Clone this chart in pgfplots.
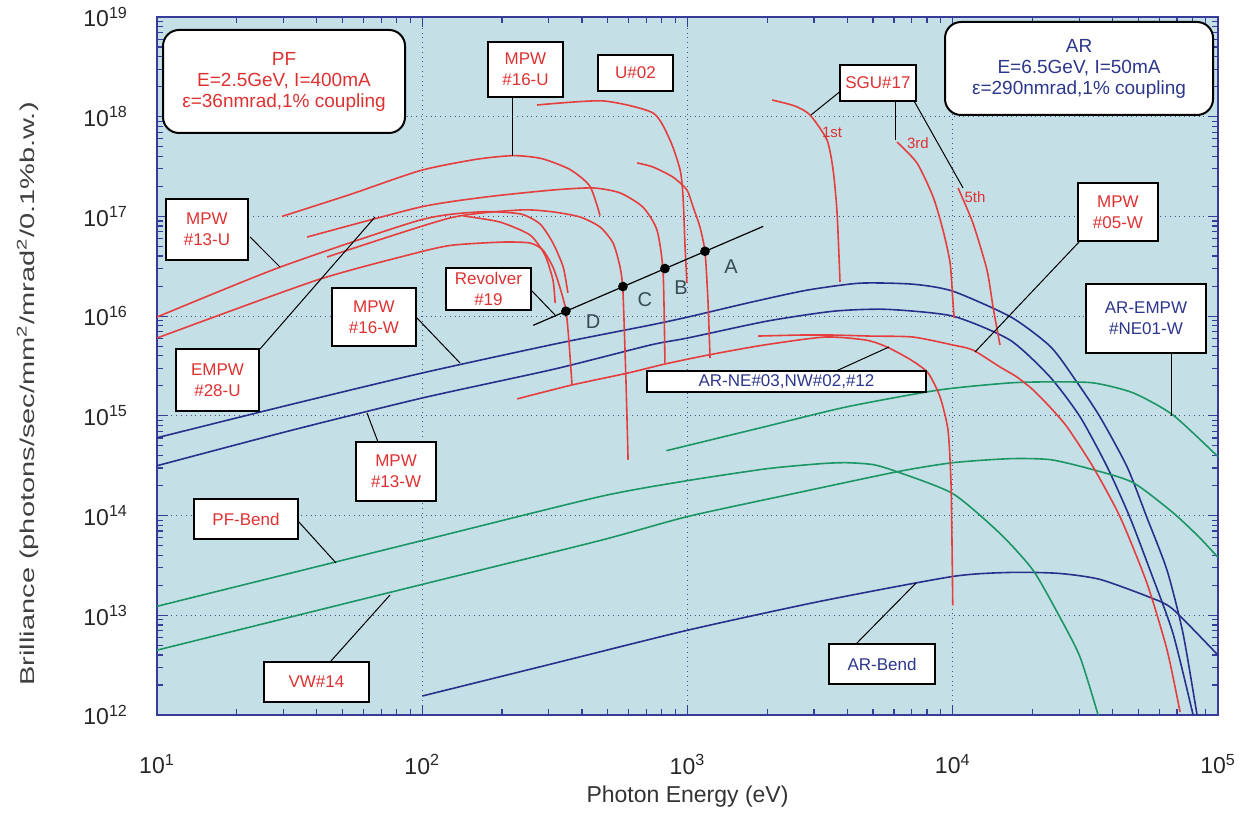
\documentclass[border=0pt]{standalone}
\usepackage{pgfplots}
\pgfplotsset{compat=1.18}
\usepackage{fontspec}
\setmainfont{Liberation Sans}
\usetikzlibrary{calc}
\definecolor{bgc}{RGB}{197,223,230}
\definecolor{redc}{RGB}{228,62,62}
\definecolor{redt}{RGB}{222,50,50}
\definecolor{bluec}{RGB}{40,48,140}
\definecolor{bluet}{RGB}{45,55,140}
\definecolor{greenc}{RGB}{28,150,100}
\definecolor{framec}{RGB}{55,60,155}
\definecolor{gridc}{RGB}{70,80,130}
\definecolor{letc}{RGB}{55,75,85}
\pgfplotsset{
  rc/.style={redc, line width=0.8pt, smooth, tension=0.4},
  bc/.style={bluec, line width=0.8pt, smooth, tension=0.4},
  gc/.style={greenc, line width=0.8pt, smooth, tension=0.4},
}
\tikzset{
  box/.style={draw=black, fill=white, line width=0.8pt, inner sep=1pt, align=center, font=\fontsize{8.5}{10.5}\selectfont},
  lead/.style={black, line width=0.5pt},
}
\begin{document}
\begin{tikzpicture}
\begin{axis}[name=ax, scale only axis, width=530.5pt, height=349pt,
  xmode=log, ymode=log, xmin=10, xmax=1e5, ymin=1e12, ymax=1e19,
  axis background/.style={fill=bgc},
  axis line style={framec, line width=0.8pt},
  tick style={framec, line width=0.6pt},
  major tick length=5pt, minor tick length=3pt,
  xtick={10,100,1000,10000,100000},
  xticklabels={10\textsuperscript{1},10\textsuperscript{2},10\textsuperscript{3},10\textsuperscript{4},10\textsuperscript{5}},
  ytick={1e12,1e13,1e14,1e15,1e16,1e17,1e18,1e19},
  yticklabels={10\textsuperscript{12},10\textsuperscript{13},10\textsuperscript{14},10\textsuperscript{15},10\textsuperscript{16},10\textsuperscript{17},10\textsuperscript{18},10\textsuperscript{19}},
  minor xtick={20,30,40,50,60,70,80,90,200,300,400,500,600,700,800,900,2000,3000,4000,5000,6000,7000,8000,9000,20000,30000,40000,50000,60000,70000,80000,90000},
  minor ytick={2e12,3e12,4e12,5e12,6e12,7e12,8e12,9e12,2e13,3e13,4e13,5e13,6e13,7e13,8e13,9e13,2e14,3e14,4e14,5e14,6e14,7e14,8e14,9e14,2e15,3e15,4e15,5e15,6e15,7e15,8e15,9e15,2e16,3e16,4e16,5e16,6e16,7e16,8e16,9e16,2e17,3e17,4e17,5e17,6e17,7e17,8e17,9e17,2e18,3e18,4e18,5e18,6e18,7e18,8e18,9e18},
  grid=major, major grid style={dotted, gridc, line width=0.6pt},
  tick label style={font=\fontsize{11.5}{13}\selectfont, black!85},
  xticklabel style={yshift=-16pt},
  yticklabel style={xshift=-11pt},
  xlabel={Photon Energy (eV)},
  xlabel style={at={(axis description cs:0.5,-0.1175)}, anchor=center, font=\fontsize{11.5}{13}\selectfont, black!80},
  ylabel={\scalebox{1.45}[1]{Brilliance (photons/sec/mm\textsuperscript{2}/mrad\textsuperscript{2}/0.1\%b.w.)}},
  ylabel style={at={(axis description cs:-0.122,0.46)}, anchor=center, font=\fontsize{10}{12}\selectfont, black!75},
]
% ---- blue: PF MPW#16-W, MPW#13-W, AR-Bend
\addplot[bc] coordinates {(10,6.03e14)(31.6,1.29e15)(100,2.69e15)(316,5.25e15)(724,8.13e15)(1000,9.77e15)(1738,1.38e16)(2818,1.82e16)(4467,2.14e16)(7079,2.09e16)(10000,1.78e16)(16600,9.77e15)(23440,4.90e15)(29510,2.14e15)(35890,9.77e14)(45390,3.09e14)(53950,9.55e13)(64270,2.82e13)(73790,6.61e12)(83370,1.0e12)};
\addplot[bc] coordinates {(10,3.16e14)(31.6,7.08e14)(100,1.51e15)(316,2.95e15)(724,5.13e15)(1000,6.03e15)(1995,8.91e15)(3548,1.12e16)(5623,1.17e16)(10000,1.0e16)(16440,5.75e15)(23280,2.45e15)(30200,9.77e14)(38190,3.09e14)(46560,9.55e13)(55460,2.82e13)(67610,6.61e12)(80540,1.0e12)};
\addplot[bc] coordinates {(100,1.55e12)(316,3.31e12)(1000,7.08e12)(3162,1.38e13)(10000,2.45e13)(16600,2.69e13)(25120,2.63e13)(35890,2.29e13)(55460,1.51e13)(67610,1.15e13)(100000,3.98e12)};
% ---- green: PF-Bend, VW#14, AR-EMPW
\addplot[gc] coordinates {(10,1.23e13)(100,5.62e13)(468,1.55e14)(1000,2.24e14)(1995,2.95e14)(3162,3.31e14)(3981,3.39e14)(5012,3.24e14)(6166,2.75e14)(10000,1.66e14)(15070,6.61e13)(20090,2.82e13)(25350,9.55e12)(30200,3.80e12)(35320,1.0e12)};
\addplot[gc] coordinates {(10,4.47e12)(100,2.04e13)(468,5.62e13)(1000,9.77e13)(2512,1.66e14)(6166,2.75e14)(10000,3.39e14)(16440,3.72e14)(23440,3.63e14)(33880,2.88e14)(47860,2.14e14)(67610,1.07e14)(85110,6.03e13)(100000,3.80e13)};
\addplot[gc] coordinates {(832,4.47e14)(1950,7.76e14)(3981,1.23e15)(8913,1.82e15)(16440,2.14e15)(23440,2.19e15)(33880,2.14e15)(47860,1.70e15)(67610,1.02e15)(100000,3.89e14)};
% ---- red curves
\addplot[rc] coordinates {(29.6,1.0e17)(53.5,1.66e17)(98.2,2.88e17)(158,3.72e17)(220,4.07e17)(282,3.80e17)(361,2.95e17)(429,2.0e17)(468,1.02e17)};
\addplot[rc] coordinates {(271,1.31e18)(480,1.44e18)(741,1.09e18)(859,5.83e17)(938,2.92e17)(962,1.57e17)(979,4.93e16)(995,2.15e16)};
\addplot[rc] coordinates {(646,3.44e17)(741,3.13e17)(881,2.48e17)(995,1.84e17)(1050,1.24e17)(1114,7.83e16)(1164,4.40e16)(1194,1.45e16)(1216,3.8e15)};
\addplot[rc] coordinates {(36.8,6.21e16)(98.2,1.24e17)(175,1.57e17)(311,1.84e17)(441,1.93e17)(557,1.72e17)(679,1.24e17)(767,7.31e16)(809,2.77e16)(822,3.39e15)};
\addplot[rc] coordinates {(43.8,3.92e16)(127,9.64e16)(234,1.16e17)(311,1.11e17)(394,9.86e16)(468,7.83e16)(524,5.41e16)(557,3.10e16)(571,1.75e16)(586,2.29e15)(597,3.61e14)};
\addplot[rc] coordinates {(10,6.03e15)(40.1,2.30e16)(98.2,4.40e16)(131,5.16e16)(201,5.53e16)(255,5.41e16)(285,4.60e16)(311,3.10e16)(330,1.96e16)(348,1.15e16)(357,5.75e15)(367,2.04e15)};
\addplot[rc] coordinates {(10,9.79e15)(29.1,3.10e16)(98.2,9.20e16)(165,1.11e17)(234,1.06e17)(278,8.39e16)(311,5.41e16)(340,3.10e16)(354,1.71e16)};
\addplot[rc] coordinates {(143,1.01e17)(196,8.79e16)(255,6.50e16)(290,4.10e16)(311,2.30e16)(317,1.35e16)};
\addplot[rc] coordinates {(228,1.48e15)(367,2.04e15)(597,2.69e15)(822,3.31e15)(1194,4.07e15)(1941,5.13e15)(3296,6.17e15)(4710,5.75e15)(5649,4.90e15)(6966,3.63e15)(8072,2.69e15)(8954,1.55e15)(9594,7.21e14)(9840,2.28e14)(9931,5.69e13)(10000,1.26e13)};
\addplot[rc] coordinates {(1845,6.31e15)(2655,6.46e15)(3540,6.46e15)(4875,6.31e15)(7079,6.17e15)(10020,5.13e15)(11910,4.57e15)(15070,3.09e15)(17460,2.45e15)(20090,1.82e15)(23280,1.22e15)(26980,7.73e14)(33810,3.07e14)(42760,9.66e13)(53950,2.10e13)(64270,4.48e12)(71950,1.07e12)};
\addplot[rc] coordinates {(2084,1.47e18)(2541,1.28e18)(2897,1.04e18)(3357,5.83e17)(3540,2.92e17)(3664,1.08e17)(3758,2.20e16)};
\addplot[rc] coordinates {(6166,5.57e17)(7328,3.44e17)(8433,1.57e17)(9183,7.31e16)(9772,3.41e16)(10020,1.36e16)(10120,9.57e15)};
\addplot[rc] coordinates {(10470,1.93e17)(11910,8.59e16)(13460,2.90e16)(14190,1.23e16)(15070,5.13e15)};
% ---- Revolver line A-D
\addplot[black, line width=0.6pt] coordinates {(262,8.09e15)(1928,7.94e16)};
\addplot[only marks, mark=*, mark size=2.2pt, black] coordinates {(348,1.12e16)(571,1.98e16)(822,3.00e16)(1164,4.47e16)};
% ---- leaders
\draw[lead] (rel axis cs:0.3355,0.8854) -- (rel axis cs:0.3355,0.8009);
\draw[lead] (rel axis cs:0.6456,0.8954) -- (rel axis cs:0.6164,0.8596);
\draw[lead] (rel axis cs:0.6956,0.8797) -- (rel axis cs:0.6956,0.8238);
\draw[lead] (rel axis cs:0.7135,0.8797) -- (rel axis cs:0.7597,0.7550);
\draw[lead] (rel axis cs:0.0877,0.6848) -- (rel axis cs:0.1159,0.6418);
\draw[lead] (rel axis cs:0.0971,0.5244) -- (rel axis cs:0.2055,0.7135);
\draw[lead] (rel axis cs:0.2441,0.5702) -- (rel axis cs:0.2856,0.5043);
\draw[lead] (rel axis cs:0.2083,0.3911) -- (rel axis cs:0.1979,0.4327);
\draw[lead] (rel axis cs:0.3525,0.6089) -- (rel axis cs:0.3751,0.5731);
\draw[lead] (rel axis cs:0.1329,0.2779) -- (rel axis cs:0.1687,0.2178);
\draw[lead] (rel axis cs:0.1631,0.0759) -- (rel axis cs:0.2196,0.1719);
\draw[lead] (rel axis cs:0.6400,0.4928) -- (rel axis cs:0.6899,0.5272);
\draw[lead] (rel axis cs:0.8699,0.6791) -- (rel axis cs:0.7710,0.5201);
\draw[lead] (rel axis cs:0.9566,0.5186) -- (rel axis cs:0.9566,0.4284);
\draw[lead] (rel axis cs:0.6588,0.1017) -- (rel axis cs:0.7154,0.1891);
% ---- info boxes
\node[draw=black, fill=white, line width=1pt, rounded corners=8pt, minimum width=121pt, minimum height=51.5pt, align=center, text=redt, font=\fontsize{9.5}{10.5}\selectfont] at (rel axis cs:0.1197,0.9076) {PF\\E=2.5GeV, I=400mA\\ε=36nmrad,1\% coupling};
\node[draw=black, fill=white, line width=1pt, rounded corners=8pt, minimum width=134pt, minimum height=46.5pt, align=center, text=bluet, font=\fontsize{9.5}{10.5}\selectfont] at (rel axis cs:0.8690,0.9262) {AR\\E=6.5GeV, I=50mA\\ε=290nmrad,1\% coupling};
% ---- label boxes
\node[box, text=redt, minimum width=37.5pt, minimum height=27.5pt] at (rel axis cs:0.3473,0.9248) {MPW\\\#16-U};
\node[box, text=redt, minimum width=37.5pt, minimum height=18pt] at (rel axis cs:0.4510,0.9198) {U\#02};
\node[box, text=redt, minimum width=38pt, minimum height=18pt] at (rel axis cs:0.6795,0.9054) {SGU\#17};
\node[box, text=redt, minimum width=41pt, minimum height=30.5pt] at (rel axis cs:0.0471,0.6956) {MPW\\\#13-U};
\node[box, text=redt, minimum width=41.5pt, minimum height=31pt] at (rel axis cs:0.0570,0.4799) {EMPW\\\#28-U};
\node[box, text=redt, minimum width=42pt, minimum height=29pt] at (rel axis cs:0.2045,0.5702) {MPW\\\#16-W};
\node[box, text=redt, minimum width=40pt, minimum height=29.5pt] at (rel axis cs:0.2253,0.3489) {MPW\\\#13-W};
\node[box, text=redt, minimum width=42.5pt, minimum height=21pt] at (rel axis cs:0.3124,0.6103) {Revolver\\\#19};
\node[box, text=redt, minimum width=52pt, minimum height=20pt] at (rel axis cs:0.0839,0.2808) {PF-Bend};
\node[box, text=redt, minimum width=52.5pt, minimum height=20pt] at (rel axis cs:0.1503,0.0473) {VW\#14};
\node[box, text=bluet, minimum width=139.5pt, minimum height=10.5pt] at (rel axis cs:0.5933,0.4778) {AR-NE\#03,NW\#02,\#12};
\node[box, text=redt, minimum width=40pt, minimum height=29pt] at (rel axis cs:0.9057,0.7206) {MPW\\\#05-W};
\node[box, text=bluet, minimum width=60pt, minimum height=34.5pt] at (rel axis cs:0.9321,0.5681) {AR-EMPW\\\#NE01-W};
\node[box, text=bluet, minimum width=53pt, minimum height=20pt] at (rel axis cs:0.6833,0.0731) {AR-Bend};
% ---- small texts
\node[text=redt, font=\fontsize{7.5}{9}\selectfont] at (rel axis cs:0.6362,0.8352) {1st};
\node[text=redt, font=\fontsize{7.5}{9}\selectfont] at (rel axis cs:0.7172,0.8195) {3rd};
\node[text=redt, font=\fontsize{7.5}{9}\selectfont] at (rel axis cs:0.7710,0.7421) {5th};
\node[text=letc, font=\fontsize{10}{12}\selectfont] at (rel axis cs:0.5410,0.6418) {A};
\node[text=letc, font=\fontsize{10}{12}\selectfont] at (rel axis cs:0.4939,0.6117) {B};
\node[text=letc, font=\fontsize{10}{12}\selectfont] at (rel axis cs:0.4599,0.5946) {C};
\node[text=letc, font=\fontsize{10}{12}\selectfont] at (rel axis cs:0.4109,0.5630) {D};
\end{axis}
\pgfresetboundingbox
\path[use as bounding box] ($(ax.south west)+(-78.5pt,-49.5pt)$) rectangle ($(ax.north east)+(15pt,8.5pt)$);
\end{tikzpicture}
\end{document}
